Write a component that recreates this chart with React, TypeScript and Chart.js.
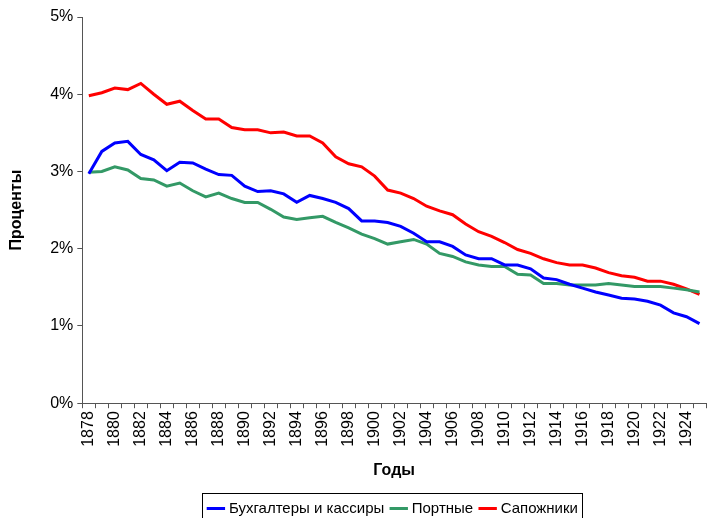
import React, { useEffect, useRef } from "react";
import { Chart, registerables } from "chart.js";

Chart.register(...registerables);

const years: string[] = [];
for (let y = 1878; y <= 1925; y++) years.push(String(y));

const accountants = [
  2.97, 3.26, 3.37, 3.39, 3.22, 3.15, 3.01, 3.12, 3.11, 3.03, 2.96, 2.95,
  2.81, 2.74, 2.75, 2.71, 2.6, 2.69, 2.65, 2.6, 2.52, 2.36, 2.36, 2.34,
  2.29, 2.2, 2.09, 2.09, 2.03, 1.92, 1.87, 1.87, 1.79, 1.79, 1.74, 1.62,
  1.6, 1.54, 1.49, 1.44, 1.4, 1.36, 1.35, 1.32, 1.27, 1.17, 1.12, 1.03,
];
const tailors = [
  2.99, 3.0, 3.06, 3.02, 2.91, 2.89, 2.81, 2.85, 2.75, 2.67, 2.72, 2.65,
  2.6, 2.6, 2.51, 2.41, 2.38, 2.4, 2.42, 2.34, 2.27, 2.19, 2.13, 2.06,
  2.09, 2.12, 2.06, 1.94, 1.9, 1.83, 1.79, 1.77, 1.77, 1.67, 1.66, 1.55,
  1.55, 1.53, 1.53, 1.53, 1.55, 1.53, 1.51, 1.51, 1.51, 1.49, 1.47, 1.44,
];
const shoemakers = [
  3.98, 4.02, 4.08, 4.06, 4.14, 4.0, 3.87, 3.91, 3.79, 3.68, 3.68, 3.57,
  3.54, 3.54, 3.5, 3.51, 3.46, 3.46, 3.37, 3.19, 3.1, 3.06, 2.94, 2.76,
  2.72, 2.65, 2.55, 2.49, 2.44, 2.32, 2.22, 2.16, 2.08, 1.99, 1.94, 1.87,
  1.82, 1.79, 1.79, 1.75, 1.69, 1.65, 1.63, 1.58, 1.58, 1.54, 1.48, 1.41,
];

const seriesNames = ["Бухгалтеры и кассиры", "Портные", "Сапожники"];
const seriesColors = ["#0000FF", "#339966", "#FF0000"];
const yTicks = [0, 1, 2, 3, 4, 5];

const FONT = "'Liberation Sans', Arial, sans-serif";

const legendBorder = {
  id: "legendBorder",
  afterDraw(chart: any) {
    const lg = chart.legend;
    if (!lg || !lg.legendHitBoxes || !lg.legendHitBoxes.length) return;
    const boxes = lg.legendHitBoxes;
    let l = Infinity, r = -Infinity, t = Infinity;
    for (const h of boxes) {
      l = Math.min(l, h.left);
      r = Math.max(r, h.left + h.width);
      t = Math.min(t, h.top);
    }
    const ctx = chart.ctx;
    ctx.save();
    ctx.strokeStyle = "#000";
    ctx.lineWidth = 1;
    const x0 = Math.round(l - 8) + 0.5;
    const y0 = Math.round(t - 8) + 0.5;
    ctx.strokeRect(x0, y0, Math.round(r + 4) - Math.round(l - 8), chart.height + 5 - y0);
    ctx.restore();
  },
};

export default function App() {
  const ref = useRef<HTMLCanvasElement>(null);
  useEffect(() => {
    const data = [accountants, tailors, shoemakers];
    const chart = new Chart(ref.current!, {
      type: "line",
      data: {
        labels: years,
        datasets: data.map((d, i) => ({
          label: seriesNames[i],
          data: d,
          borderColor: seriesColors[i],
          backgroundColor: seriesColors[i],
          borderWidth: 3,
          pointRadius: 0,
          tension: 0,
          fill: false,
        })),
      },
      options: {
        animation: false,
        responsive: false,
        maintainAspectRatio: false,
        layout: { padding: { top: 17, right: 1, left: 0, bottom: 0 } },
        plugins: {
          tooltip: { enabled: false },
          legend: {
            position: "bottom",
            fullSize: false,
            maxHeight: 26,
            labels: {
              usePointStyle: true,
              pointStyle: "line",
              boxWidth: 11,
              boxHeight: 13,
              color: "#000",
              padding: 9,
              font: { family: FONT, size: 15 },
            },
          },
        },
        scales: {
          x: {
            offset: true,
            afterFit: (s: any) => {
              s.paddingRight = 0;
              s.paddingLeft = 0;
            },
            grid: {
              offset: true,
              drawOnChartArea: false,
              drawTicks: true,
              tickLength: 5,
              color: "#555",
            },
            border: { color: "#555", width: 1 },
            ticks: {
              autoSkip: false,
              minRotation: 90,
              maxRotation: 90,
              padding: 3,
              color: "#000",
              font: { family: FONT, size: 16 },
              callback: (v: any, i: number) => (i % 2 === 0 ? years[i] : ""),
            },
            title: {
              display: true,
              text: "Годы",
              color: "#000",
              font: { family: FONT, size: 16, weight: "bold" },
              padding: { top: 11, bottom: 12 },
            },
          },
          y: {
            min: 0,
            max: 5,
            afterBuildTicks: (s: any) => {
              s.ticks = yTicks.map((v) => ({ value: v }));
            },
            grid: {
              drawOnChartArea: false,
              drawTicks: true,
              tickLength: 5,
              color: "#555",
            },
            border: { color: "#555", width: 1 },
            ticks: {
              padding: 4,
              color: "#000",
              font: { family: FONT, size: 16 },
              callback: (v: any) => `${v}%`,
            },
            title: {
              display: true,
              text: "Проценты",
              color: "#000",
              font: { family: FONT, size: 16, weight: "bold" },
              padding: { top: 7, bottom: 20 },
            },
          },
        },
      },
      plugins: [legendBorder],
    });
    return () => chart.destroy();
  }, []);
  return (
    <div style={{ position: "fixed", left: 0, top: 0, width: 707, height: 518, background: "#fff" }}>
      <canvas ref={ref} width={707} height={518} style={{ width: 707, height: 518 }} />
    </div>
  );
}
